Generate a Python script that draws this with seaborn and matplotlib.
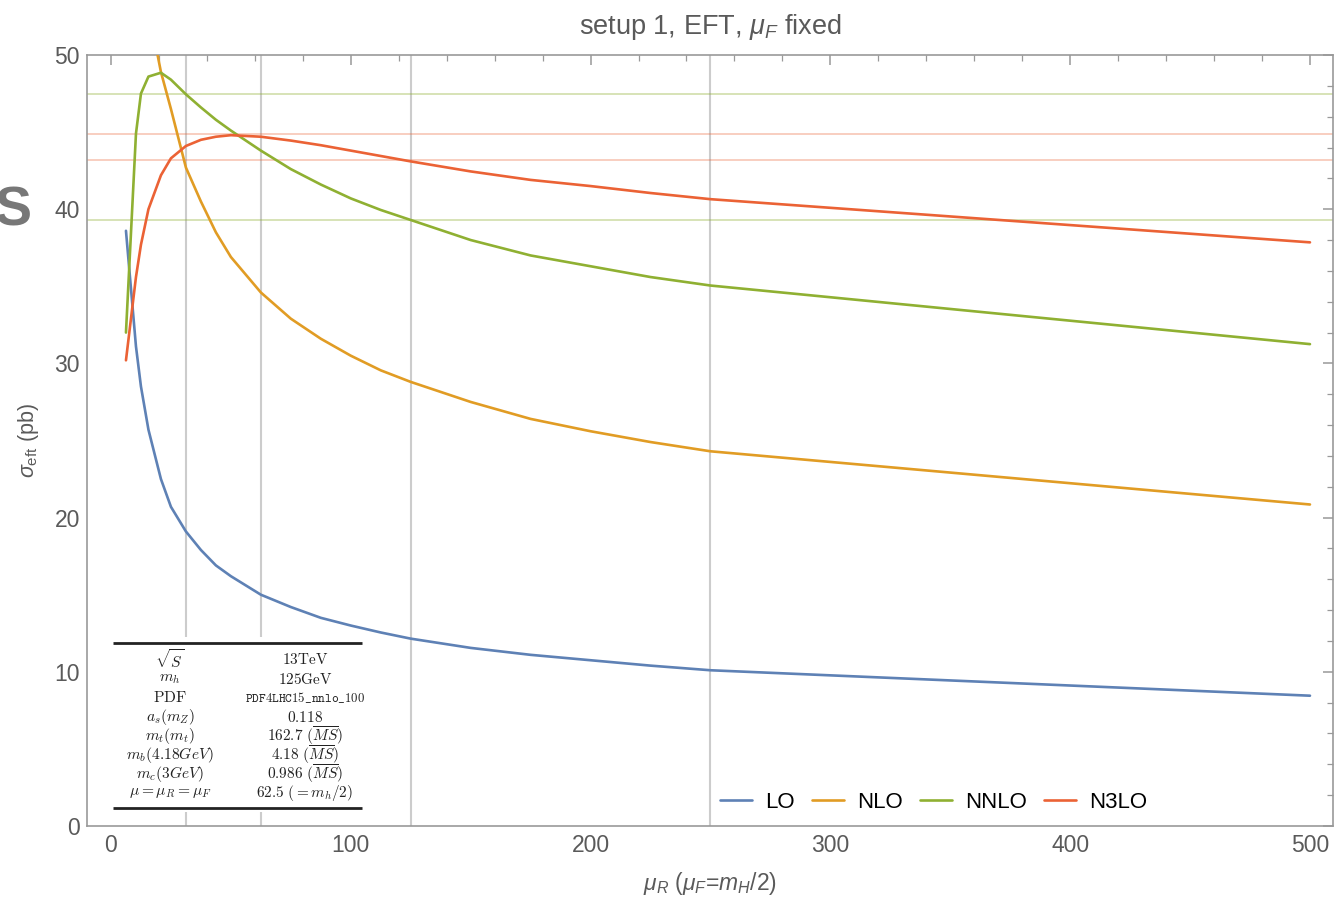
import numpy as np
import pandas as pd
import matplotlib
matplotlib.use("Agg")
import matplotlib.pyplot as plt
from matplotlib.patches import Rectangle
import seaborn as sns

# ---------------- data ----------------
mu_r = [6.25, 10.42, 12.5, 15.625, 20.83, 25, 31.25, 37.5, 43.75, 50, 62.5, 75,
        87.5, 100, 112.5, 125, 150, 175, 200, 225, 250, 500]
lo = [38.6, 31.1, 28.5, 25.7, 22.5, 20.7, 19.1, 17.9, 16.9, 16.2, 15.0, 14.2,
      13.5, 13.0, 12.55, 12.15, 11.55, 11.1, 10.75, 10.4, 10.1, 8.45]
nlo = [np.nan, np.nan, 57.5, 53.0, 48.9, 46.5, 42.7, 40.5, 38.5, 36.9, 34.6, 32.9,
       31.6, 30.5, 29.55, 28.8, 27.5, 26.4, 25.6, 24.9, 24.3, 20.85]
nnlo = [32.0, 44.9, 47.5, 48.6, 48.85, 48.4, 47.45, 46.6, 45.8, 45.1, 43.8, 42.6,
        41.6, 40.7, 39.95, 39.3, 38.0, 37.0, 36.3, 35.6, 35.05, 31.25]
n3lo = [30.2, 35.6, 37.7, 40.0, 42.2, 43.3, 44.1, 44.5, 44.7, 44.8, 44.7, 44.45,
        44.15, 43.8, 43.45, 43.1, 42.45, 41.9, 41.5, 41.05, 40.65, 37.85]
orders = ["LO", "NLO", "NNLO", "N3LO"]
colors = ["#5E81B5", "#E19C24", "#8FB032", "#EB6235"]

scale_marks = [31.25, 62.5, 125, 250]
nnlo_band = [47.45, 39.27]
n3lo_band = [44.87, 43.17]

table_labels = [r"$\sqrt{S}$", r"$m_h$", r"$\mathrm{PDF}$", r"$a_s(m_Z)$",
                r"$m_t(m_t)$", r"$m_b(4.18GeV)$", r"$m_c(3GeV)$",
                r"$\mu=\mu_R=\mu_F$"]
table_values = [r"$\mathrm{13TeV}$", r"$\mathrm{125GeV}$",
                r"$\mathtt{PDF4LHC15\_nnlo\_100}$", r"$0.118$",
                r"$162.7\ (\overline{MS})$", r"$4.18\ (\overline{MS})$",
                r"$0.986\ (\overline{MS})$", r"$62.5\ (=m_h/2)$"]

rows = []
for name, vals in zip(orders, [lo, nlo, nnlo, n3lo]):
    for x, y in zip(mu_r, vals):
        if not np.isnan(y):
            rows.append({"mu": x, "sigma": y, "order": name})
df = pd.DataFrame(rows)

# ---------------- style ----------------
sns.set_theme(style="white")
plt.rcParams["font.family"] = ["Liberation Sans", "DejaVu Sans"]
plt.rcParams["mathtext.fontset"] = "custom"
plt.rcParams["mathtext.rm"] = "Liberation Sans"
plt.rcParams["mathtext.it"] = "Liberation Sans:italic"
plt.rcParams["mathtext.bf"] = "Liberation Sans:bold"

gray_txt = "#5a5a5a"
spine_col = "#999999"

fig = plt.figure(figsize=(13.37, 8.98), dpi=100)
ax = fig.add_axes([87 / 1337, 72 / 898, 1246 / 1337, 771 / 898])

# reference lines
for xv in scale_marks:
    ax.axvline(xv, color="#cccccc", lw=1.5, zorder=1)
for yv in nnlo_band:
    ax.axhline(yv, color="#8FB032", alpha=0.45, lw=1.1, zorder=1)
for yv in n3lo_band:
    ax.axhline(yv, color="#EB6235", alpha=0.4, lw=1.1, zorder=1)

sns.lineplot(data=df, x="mu", y="sigma", hue="order", hue_order=orders,
             palette=colors, lw=1.9, ax=ax, zorder=3, sort=True,
             estimator=None)

ax.set_xlim(-10, 509.6)
ax.set_ylim(0, 50)
ax.set_xticks([0, 100, 200, 300, 400, 500])
ax.set_yticks([0, 10, 20, 30, 40, 50])
ax.set_xticks(np.arange(0, 501, 20), minor=True)
ax.set_yticks(np.arange(0, 51, 2), minor=True)
ax.tick_params(which="both", direction="in", top=True, right=True,
               color=spine_col, labelcolor=gray_txt, labelsize=16.5)
ax.tick_params(which="major", length=7, width=1.1)
ax.tick_params(which="minor", length=4, width=0.9)
ax.tick_params(axis="x", pad=6)
ax.tick_params(axis="y", pad=5)
for s in ax.spines.values():
    s.set_color(spine_col)
    s.set_linewidth(1.2)
ax.grid(False)

ax.set_title(r"setup 1, EFT, $\mu_F$ fixed", color=gray_txt, fontsize=19.5, pad=15)
ax.set_xlabel(r"$\mu_R$ ($\mu_F$=$m_H$/2)", color=gray_txt, fontsize=16.5, labelpad=9)
ax.set_ylabel(r"$\sigma_{\mathrm{eft}}$ (pb)", color=gray_txt, fontsize=15.5, labelpad=10)

leg = ax.legend(loc="center left", bbox_to_anchor=(0.492, 0.031), ncol=4,
                frameon=False, fontsize=16, handlelength=1.45, columnspacing=0.75,
                handletextpad=0.6)
for t in leg.get_texts():
    t.set_color("black")
ax.get_legend().set_title(None)

# ---------------- parameter table ----------------
tr = ax.transAxes
ax.add_patch(Rectangle((0.0169, 0.018), 0.208, 0.227, transform=tr,
                       facecolor="white", edgecolor="none", zorder=4))
ax.plot([0.0209, 0.2207], [0.2374, 0.2374], transform=tr, color="#222222",
        lw=2.0, zorder=5, solid_capstyle="butt")
ax.plot([0.0209, 0.2207], [0.0233, 0.0233], transform=tr, color="#222222",
        lw=2.0, zorder=5, solid_capstyle="butt")
y0 = (826 - 660) / 771
dy = 19 / 771
for i, (lab, val) in enumerate(zip(table_labels, table_values)):
    yy = y0 - i * dy
    ax.text(0.0666, yy, lab, transform=tr, ha="center", va="center",
            fontsize=11.2, math_fontfamily="cm", color="#222222", zorder=6)
    fs = 9.2 if "mathtt" in val else 11.0
    ax.text(0.175, yy, val, transform=tr, ha="center", va="center",
            fontsize=fs, math_fontfamily="cm", color="#222222", zorder=6)

# cropped artifact at the left edge
fig.text(-0.004, (898 - 212) / 898, "S", fontsize=40, fontweight="bold",
         color="#777777", ha="left", va="center")

fig.savefig("out.png", dpi=100)
